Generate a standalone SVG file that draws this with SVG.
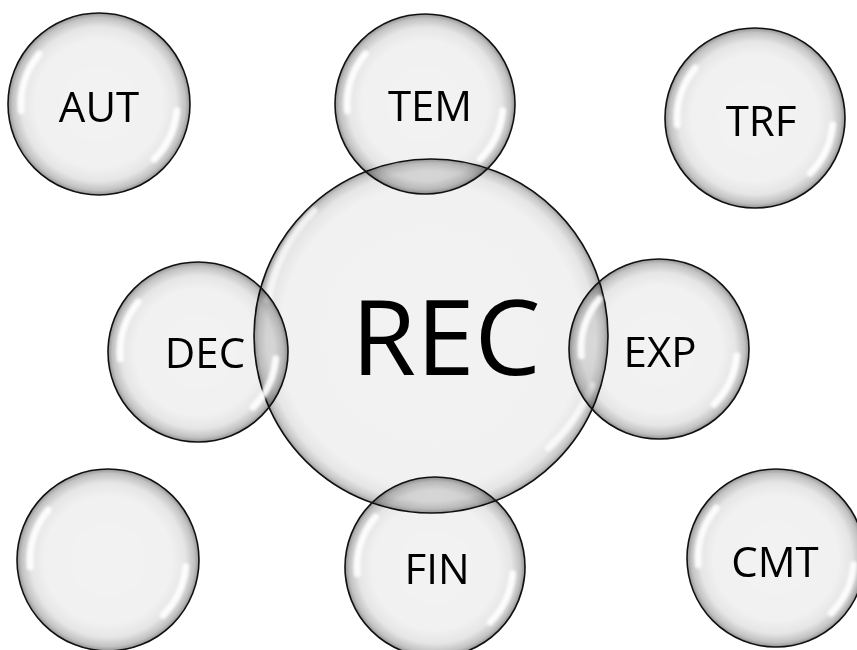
<svg xmlns="http://www.w3.org/2000/svg" xmlns:xlink="http://www.w3.org/1999/xlink" width="857" height="650" viewBox="0 0 857 650">
<style>
  .b { fill: url(#gBody); stroke: #111; stroke-width: 1.6; }
  .big { fill: url(#gBig); stroke: #111; stroke-width: 1.6; }
  .lbl { font-family: "Open Sans", "Liberation Sans", sans-serif; font-size: 42px; fill: #000; text-anchor: middle; }
  .title { font-family: "Open Sans", "Liberation Sans", sans-serif; font-size: 105px; fill: #000; text-anchor: middle; }
  .shine { fill: none; stroke: #fff; stroke-width: 7; stroke-linecap: round; opacity: 0.9; }
</style>
<defs>
  <radialGradient id="gBody" cx="0.5" cy="0.5" r="0.5">
    <stop offset="0" stop-color="#000" stop-opacity="0.05"/>
    <stop offset="0.7" stop-color="#000" stop-opacity="0.055"/>
    <stop offset="0.85" stop-color="#000" stop-opacity="0.1"/>
    <stop offset="0.95" stop-color="#000" stop-opacity="0.24"/>
    <stop offset="1" stop-color="#000" stop-opacity="0.42"/>
  </radialGradient>
  <radialGradient id="gBig" cx="0.5" cy="0.5" r="0.5">
    <stop offset="0" stop-color="#000" stop-opacity="0.05"/>
    <stop offset="0.85" stop-color="#000" stop-opacity="0.055"/>
    <stop offset="0.93" stop-color="#000" stop-opacity="0.1"/>
    <stop offset="0.975" stop-color="#000" stop-opacity="0.22"/>
    <stop offset="1" stop-color="#000" stop-opacity="0.38"/>
  </radialGradient>
  <filter id="soft" x="-20%" y="-20%" width="140%" height="140%">
    <feGaussianBlur stdDeviation="1.6"/>
  </filter>
  <g id="shine" filter="url(#soft)">
    <path class="shine" d="M -59.8 -50.1 A 78 78 0 0 0 -77.7 6.8"/>
    <path class="shine" d="M 77.7 6.8 A 78 78 0 0 1 55.2 55.2"/>
  </g>
</defs>
<rect width="857" height="650" fill="#fff"/>
<g id="connectors"/>

<g id="node-REC">
  <circle class="big" cx="431" cy="336" r="177"/>
  <g filter="url(#soft)" opacity="0.8">
    <path class="shine" d="M 314 211 A 168 168 0 0 0 268 300"/>
    <path class="shine" d="M 592 385 A 168 168 0 0 1 548 448"/>
  </g>
  <text class="title" x="446" y="375">REC</text>
</g>

<g id="node-AUT">
  <circle class="b" cx="99" cy="104" r="91"/>
  <use xlink:href="#shine" href="#shine" transform="translate(99 104)"/>
  <text class="lbl" x="99" y="122">AUT</text>
</g>

<g id="node-TEM">
  <circle class="b" cx="425" cy="104" r="90"/>
  <use xlink:href="#shine" href="#shine" transform="translate(425 104)"/>
  <text class="lbl" x="430" y="121">TEM</text>
</g>

<g id="node-TRF">
  <circle class="b" cx="755" cy="118" r="90"/>
  <use xlink:href="#shine" href="#shine" transform="translate(755 118)"/>
  <text class="lbl" x="761" y="136">TRF</text>
</g>

<g id="node-DEC">
  <circle class="b" cx="198" cy="352" r="90"/>
  <use xlink:href="#shine" href="#shine" transform="translate(198 352)"/>
  <text class="lbl" x="205" y="368">DEC</text>
</g>

<g id="node-EXP">
  <circle class="b" cx="659" cy="349" r="90"/>
  <use xlink:href="#shine" href="#shine" transform="translate(659 349)"/>
  <text class="lbl" x="660" y="367">EXP</text>
</g>

<g id="node-blank">
  <circle class="b" cx="108" cy="560" r="91"/>
  <use xlink:href="#shine" href="#shine" transform="translate(108 560)"/>
</g>

<g id="node-FIN">
  <circle class="b" cx="435" cy="567" r="90"/>
  <use xlink:href="#shine" href="#shine" transform="translate(435 567)"/>
  <text class="lbl" x="437" y="584">FIN</text>
</g>

<g id="node-CMT">
  <circle class="b" cx="776" cy="558" r="89"/>
  <use xlink:href="#shine" href="#shine" transform="translate(776 558)"/>
  <text class="lbl" x="775" y="577">CMT</text>
</g>
</svg>
